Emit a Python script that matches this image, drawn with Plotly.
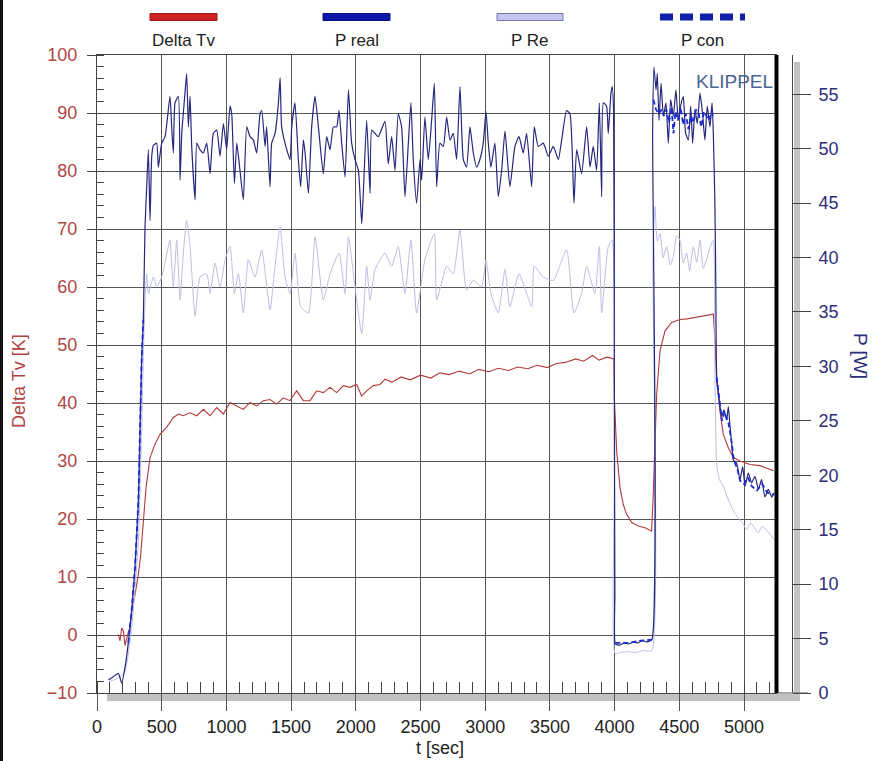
import plotly.graph_objects as go

# ---------------- data ----------------
t_real = [88, 126, 165, 191, 217, 242, 268, 294, 320, 332, 345, 358, 371, 384, 397, 410, 423, 436, 461, 474,
          500, 526, 564, 577, 590, 603, 629, 642, 655, 680, 693, 706, 719, 732, 758, 771, 796, 822, 848, 874,
          899, 925, 951, 977, 1002, 1028, 1041, 1062, 1080, 1105, 1131, 1157, 1183, 1208, 1234, 1260, 1273,
          1299, 1311, 1337, 1350, 1376, 1402, 1415, 1427, 1453, 1474, 1492, 1505, 1530, 1556, 1574, 1595,
          1608, 1634, 1659, 1685, 1711, 1749, 1775, 1801, 1827, 1852, 1870, 1891, 1917, 1943, 1968, 1994,
          2020, 2046, 2058, 2084, 2110, 2123, 2149, 2174, 2225, 2251, 2277, 2303, 2328, 2354, 2380, 2406,
          2426, 2444, 2470, 2496, 2509, 2534, 2560, 2586, 2607, 2625, 2650, 2676, 2702, 2728, 2753, 2779,
          2805, 2831, 2856, 2882, 2908, 2934, 2959, 2985, 3006, 3024, 3044, 3075, 3101, 3127, 3153, 3191,
          3230, 3261, 3294, 3320, 3359, 3379, 3410, 3449, 3488, 3526, 3565, 3591, 3629, 3655, 3686, 3707,
          3745, 3784, 3810, 3835, 3861, 3882, 3900, 3913, 3938, 3951, 3972, 3982, 3992, 3998, 4002, 4006,
          4040, 4075, 4110, 4145, 4180, 4215, 4250, 4288, 4294, 4304, 4320, 4330, 4343, 4359, 4377, 4397,
          4415, 4433, 4454, 4474, 4492, 4510, 4531, 4549, 4570, 4588, 4603, 4621, 4639, 4660, 4680, 4698,
          4716, 4737, 4753, 4763, 4775, 4782, 4789, 4809, 4827, 4845, 4866, 4879, 4892, 4905, 4918, 4943,
          4969, 4990, 5008, 5033, 5059, 5085, 5111, 5136, 5162, 5188, 5214, 5232]
p_real = [1.2, 1.5, 1.8, 0.9, 2.4, 4.6, 7.6, 11.6, 17.7, 23.9, 30.6, 34.3, 42.8, 46.5, 49.9, 43.4, 49.3, 50.3,
          50.5, 48.3, 50.5, 51.1, 54.8, 52.0, 49.6, 54.2, 54.8, 47.1, 51.4, 55.1, 56.9, 52.0, 54.8, 50.2,
          45.3, 50.5, 49.9, 49.6, 50.5, 47.7, 51.4, 51.7, 49.3, 52.3, 49.9, 53.9, 53.2, 46.8, 50.5, 48.0,
          45.3, 52.0, 51.1, 50.8, 49.6, 53.2, 53.5, 50.2, 52.0, 46.5, 50.5, 51.4, 54.2, 56.5, 52.0, 50.5,
          49.6, 49.0, 52.0, 54.2, 49.0, 46.5, 50.8, 49.6, 45.9, 52.0, 54.8, 52.0, 47.7, 51.1, 49.9, 52.0,
          52.0, 53.5, 50.5, 47.4, 55.4, 50.5, 49.0, 48.0, 43.1, 45.9, 52.6, 45.9, 51.7, 51.4, 51.1, 52.5,
          48.6, 51.1, 48.0, 53.2, 52.0, 45.6, 50.5, 54.2, 49.0, 45.0, 49.0, 47.1, 52.9, 49.0, 52.6, 56.0,
          46.5, 50.5, 50.2, 52.9, 50.8, 51.4, 49.0, 55.7, 49.0, 48.3, 52.0, 49.6, 48.3, 49.0, 50.5, 53.4,
          50.5, 48.3, 50.5, 45.6, 48.0, 51.6, 46.5, 50.2, 51.1, 49.6, 51.4, 46.5, 52.0, 50.2, 50.5, 49.3,
          50.2, 49.0, 50.8, 53.5, 53.2, 45.0, 49.9, 47.7, 52.0, 48.3, 50.2, 48.0, 54.2, 45.6, 54.2, 53.9,
          51.4, 55.1, 55.7, 53.5, 30.0, 9.0, 4.5, 4.4, 4.6, 4.5, 4.7, 4.6, 4.8, 4.7, 4.9, 51.7, 57.5, 55.4,
          56.9, 52.6, 56.0, 53.0, 54.2, 50.5, 54.5, 53.0, 55.4, 52.6, 53.9, 54.8, 51.4, 50.8, 53.9, 50.5,
          53.6, 52.3, 55.1, 53.2, 50.8, 53.9, 52.0, 54.2, 51.4, 45.0, 37.6, 29.1, 26.9, 25.4, 26.0, 25.1,
          26.3, 24.5, 22.9, 21.4, 21.1, 19.6, 20.8, 19.0, 20.2, 19.3, 19.9, 18.7, 19.6, 18.0, 18.7, 18.0, 18.4]

t_re = [88, 165, 217, 268, 320, 345, 358, 371, 384, 397, 436, 461, 500, 551, 564, 590, 616, 642, 667, 693,
        719, 758, 796, 848, 874, 912, 951, 990, 1028, 1062, 1093, 1131, 1170, 1221, 1273, 1337, 1376, 1415,
        1453, 1492, 1530, 1574, 1634, 1685, 1749, 1801, 1870, 1917, 1943, 1994, 2046, 2084, 2110, 2149,
        2225, 2277, 2328, 2380, 2426, 2470, 2534, 2607, 2625, 2702, 2753, 2805, 2856, 2908, 2972, 3006,
        3044, 3101, 3153, 3191, 3261, 3359, 3379, 3449, 3526, 3629, 3686, 3745, 3784, 3848, 3882, 3900,
        3951, 3982, 3998, 4004, 4040, 4100, 4160, 4220, 4288, 4296, 4312, 4330, 4351, 4375, 4402, 4430,
        4454, 4480, 4505, 4530, 4557, 4580, 4608, 4635, 4660, 4685, 4711, 4740, 4763, 4775, 4789, 4810,
        4840, 4870, 4900, 4930, 4960, 4990, 5020, 5050, 5080, 5110, 5140, 5170, 5200, 5232]
p_re = [1.0, 1.4, 2.0, 6.0, 14.0, 24.0, 31.0, 36.0, 38.5, 36.7, 38.2, 37.3, 38.2, 41.0, 41.6, 37.3, 41.6,
        36.1, 40.4, 43.4, 41.0, 34.6, 38.2, 38.5, 36.7, 39.5, 37.3, 39.8, 41.0, 36.7, 38.5, 34.9, 39.8,
        38.2, 40.7, 35.2, 39.2, 42.8, 38.2, 36.7, 40.4, 35.5, 34.9, 41.9, 36.1, 38.5, 40.4, 36.7, 41.9,
        37.3, 33.0, 39.2, 36.1, 38.9, 40.4, 39.2, 41.0, 36.7, 41.6, 34.9, 39.8, 42.2, 36.1, 39.2, 38.5,
        42.5, 37.0, 37.9, 37.3, 39.8, 36.7, 34.9, 38.9, 35.5, 38.5, 35.5, 39.2, 38.2, 37.9, 40.7, 34.9,
        36.7, 39.2, 36.7, 41.0, 34.9, 41.0, 41.6, 20.0, 3.6, 3.7, 3.8, 3.7, 3.9, 3.9, 40.0, 44.7, 41.5,
        42.2, 40.0, 41.0, 39.3, 40.1, 42.0, 41.6, 39.5, 40.4, 38.8, 41.0, 39.6, 41.6, 39.0, 39.8, 41.0,
        41.6, 30.0, 21.0, 19.6, 19.0, 18.0, 17.2, 16.5, 16.0, 15.6, 15.0, 15.6, 15.2, 14.7, 15.3, 15.0,
        14.6, 14.1]

t_con = [242, 268, 294, 320, 332, 345, 358, None,
         4006, 4100, 4200, 4288, None,
         4300, 4320, 4340, 4365, 4380, 4400, 4420, 4440, 4455, 4470, 4490, 4510, 4530, 4550, 4570, 4590,
         4610, 4630, 4650, 4670, 4690, 4710, 4730, 4750, 4765, None,
         4789, 4810, 4830, 4850, 4880, 4905, 4920, 4950, 4970, 5000, 5030, 5060, 5100, 5140, 5180, 5232]
p_con = [4.6, 7.6, 11.6, 17.7, 23.9, 30.6, 34.3, None,
         4.6, 4.6, 4.8, 4.9, None,
         54.5, 53.6, 53.2, 53.6, 53.0, 53.6, 52.4, 53.8, 51.4, 53.4, 52.6, 53.8, 52.2, 53.2, 51.8, 53.0,
         52.4, 53.6, 53.2, 52.0, 53.4, 53.0, 52.6, 53.4, 52.8, None,
         29.0, 27.0, 25.0, 25.8, 24.8, 23.0, 21.5, 20.5, 19.5, 19.2, 19.8, 19.0, 18.6, 19.2, 18.4, 18.2]

t_tv = [165, 178, 191, 204, 216, 229, 242, 255, 268, 294, 320, 338, 358, 379, 410, 448, 487, 538, 590, 629,
        667, 719, 770, 822, 873, 925, 976, 1028, 1079, 1131, 1182, 1234, 1286, 1337, 1388, 1440, 1491,
        1543, 1595, 1646, 1698, 1749, 1801, 1852, 1904, 1955, 2007, 2045, 2084, 2136, 2187, 2226, 2280,
        2350, 2420, 2500, 2580, 2650, 2720, 2800, 2880, 2950, 3030, 3100, 3180, 3250, 3330, 3400, 3480,
        3550, 3620, 3700, 3760, 3830, 3880, 3940, 3995, 3998, 4016, 4042, 4067, 4093, 4132, 4183, 4235,
        4286, 4299, 4312, 4325, 4351, 4389, 4441, 4505, 4560, 4608, 4660, 4711, 4763, 4778, 4789, 4814,
        4840, 4879, 4918, 4969, 5046, 5124, 5227]
delta_tv = [0.1, -1.0, 1.2, 0.7, -1.8, -0.4, 0.5, 1.3, 4.2, 7.0, 10.5, 13.9, 20.2, 25.4, 30.6, 32.9, 34.6,
            35.8, 37.5, 38.1, 37.8, 38.3, 37.8, 38.9, 37.8, 39.2, 38.1, 40.1, 39.5, 38.9, 40.1, 39.5, 40.4,
            40.6, 39.8, 40.9, 40.4, 42.1, 40.4, 40.4, 42.1, 41.8, 42.7, 41.8, 43.0, 42.7, 43.2, 41.2, 42.1,
            43.0, 43.2, 44.1, 43.6, 44.5, 44.0, 44.8, 44.3, 45.2, 44.9, 45.5, 45.0, 45.8, 45.4, 46.0, 45.6,
            46.2, 45.9, 46.5, 46.1, 46.8, 47.0, 47.6, 47.2, 48.2, 47.4, 47.9, 47.6, 40.9, 31.7, 25.4, 22.5,
            20.8, 19.4, 18.8, 18.5, 17.9, 24.3, 34.6, 41.5, 49.0, 52.4, 53.9, 54.4, 54.5, 54.7, 54.8, 55.0,
            55.3, 50.0, 43.8, 38.6, 34.6, 32.3, 30.6, 30.0, 29.4, 29.2, 28.3]

legend_names = ["Delta Tv", "P real", "P Re", "P con"]
x_ticks = [0, 500, 1000, 1500, 2000, 2500, 3000, 3500, 4000, 4500, 5000]

# ---------------- figure ----------------
W, H = 876, 761
L, R_AX, T, B = 97, 792, 55, 693      # pixel frame
PLOT_R = 777                           # right edge of data area
FONT = "Arial, 'Liberation Sans', sans-serif"


def px(x):
    return (x - L) / (R_AX - L)


def py(y):
    return (B - y) / (B - T)


fig = go.Figure()
fig.add_trace(go.Scatter(x=t_re, y=p_re, yaxis="y2", mode="lines", name=legend_names[2],
                         line=dict(color="#bdbde6", width=1, shape="spline", smoothing=0.5)))
fig.add_trace(go.Scatter(x=t_real, y=p_real, yaxis="y2", mode="lines", name=legend_names[1],
                         line=dict(color="#27277c", width=1.2, shape="spline", smoothing=0.5)))
fig.add_trace(go.Scatter(x=t_con, y=p_con, yaxis="y2", mode="lines", name=legend_names[3],
                         connectgaps=False, line=dict(color="#1a2bd0", width=1.8, dash="5px,3px")))
fig.add_trace(go.Scatter(x=t_tv, y=delta_tv, yaxis="y", mode="lines", name=legend_names[0],
                         line=dict(color="#b23a3a", width=1.1)))

grid = "#555555"
fig.update_layout(
    width=W, height=H,
    margin=dict(l=L, r=W - R_AX, t=T, b=H - B, pad=0, autoexpand=False),
    paper_bgcolor="white", plot_bgcolor="white",
    showlegend=False,
    font=dict(family=FONT, size=18, color="#222"),
    xaxis=dict(domain=[0, px(PLOT_R)], range=[0, 5255], tickvals=x_ticks, automargin=False,
               ticks="outside", ticklen=17, tickcolor=grid, tickwidth=1,
               showgrid=True, gridcolor=grid, gridwidth=1,
               showline=True, linecolor="#444", linewidth=1, mirror=True, zeroline=False,
               minor=dict(dtick=100, tick0=0, ticks="inside", ticklen=11, tickcolor="#444", showgrid=False),
               tickfont=dict(size=18, color="#222")),
    yaxis=dict(range=[-10, 100], dtick=10, tick0=0, ticks="outside", ticklen=9, tickcolor="#444",
               automargin=False,
               showgrid=True, gridcolor=grid, gridwidth=1,
               showline=True, linecolor="#444", zeroline=False,
               minor=dict(dtick=2, tick0=0, ticks="inside", ticklen=7, tickcolor="#444", showgrid=False),
               tickfont=dict(size=18, color="#b04545"), ticklabelstandoff=6),
    yaxis2=dict(overlaying="y", side="right", anchor="free", position=1.0, automargin=False,
                range=[0, 58.6], dtick=5, tick0=0, ticks="outside", ticklen=18, tickcolor="#444",
                showline=True, linecolor="#444", showgrid=False, zeroline=False,
                tickfont=dict(size=18, color="#2d2d7a"), ticklabelstandoff=4),
    yaxis3=dict(overlaying="y", side="right", anchor="free", position=1.0, automargin=False,
                range=[0, 58.6], dtick=1, tick0=0, ticks="inside", ticklen=13, tickcolor="#444",
                showticklabels=False, showline=False, showgrid=False, zeroline=False),
)

shapes = []
# gray shadow bars (bottom and right)
shapes.append(dict(type="rect", xref="paper", yref="paper", x0=px(107), x1=px(800), y0=py(701), y1=py(694),
                   fillcolor="#c2c2c2", line=dict(width=0), layer="below"))
shapes.append(dict(type="rect", xref="paper", yref="paper", x0=px(794), x1=px(800), y0=py(701), y1=py(62),
                   fillcolor="#c2c2c2", line=dict(width=0), layer="below"))
# extended bottom axis line
shapes.append(dict(type="line", xref="paper", yref="paper", x0=px(777), x1=px(808), y0=0, y1=0,
                   line=dict(color="#555", width=1)))
# thick black line at right of data area
shapes.append(dict(type="line", xref="paper", yref="paper", x0=px(776.5), x1=px(776.5), y0=0, y1=1,
                   line=dict(color="black", width=4)))
# left picture border
shapes.append(dict(type="rect", xref="paper", yref="paper", x0=px(-1), x1=px(3), y0=py(H + 1), y1=py(-1),
                   fillcolor="#111", line=dict(width=0)))

# custom legend (swatch above text)
leg_y_sw = py(17)
leg_y_tx = py(40)
sw = [(150, 217), (323, 390), (497, 563), (660, 745)]
shapes.append(dict(type="rect", xref="paper", yref="paper", x0=px(sw[0][0]), x1=px(sw[0][1]),
                   y0=py(20.5), y1=py(13.5), fillcolor="#cc2424", line=dict(color="#a01818", width=1)))
shapes.append(dict(type="rect", xref="paper", yref="paper", x0=px(sw[1][0]), x1=px(sw[1][1]),
                   y0=py(20.5), y1=py(13.5), fillcolor="#0c18aa", line=dict(color="#08108a", width=1)))
shapes.append(dict(type="rect", xref="paper", yref="paper", x0=px(sw[2][0]), x1=px(sw[2][1]),
                   y0=py(20.5), y1=py(13.5), fillcolor="#c4c4f0", line=dict(color="#7676b4", width=1)))
shapes.append(dict(type="line", xref="paper", yref="paper", x0=px(sw[3][0]), x1=px(sw[3][1]),
                   y0=leg_y_sw, y1=leg_y_sw, line=dict(color="#1020a8", width=7, dash="13px,7px")))

annotations = []
for name, (a, b) in zip(legend_names, sw):
    annotations.append(dict(text=name, xref="paper", yref="paper", x=px((a + b) / 2), y=leg_y_tx,
                            xanchor="center", yanchor="middle", showarrow=False,
                            font=dict(size=17, color="#222", family=FONT)))
annotations.append(dict(text="Delta Tv [K]", xref="paper", yref="paper", x=px(19), y=py(381),
                        textangle=-90, xanchor="center", yanchor="middle", showarrow=False,
                        font=dict(size=18, color="#b04545", family=FONT)))
annotations.append(dict(text="P [W]", xref="paper", yref="paper", x=px(861), y=py(356),
                        textangle=90, xanchor="center", yanchor="middle", showarrow=False,
                        font=dict(size=19, color="#2d2d7a", family=FONT)))
annotations.append(dict(text="KLIPPEL", xref="paper", yref="paper", x=px(775), y=py(81),
                        xanchor="right", yanchor="middle", showarrow=False,
                        font=dict(size=19, color="#4a6592", family=FONT)))
annotations.append(dict(text="t [sec]", xref="paper", yref="paper", x=px(440), y=py(748),
                        xanchor="center", yanchor="middle", showarrow=False,
                        font=dict(size=18, color="#222", family=FONT)))

fig.update_layout(shapes=shapes, annotations=annotations)
fig.write_html("out.html", config={"displayModeBar": False},
               post_script="document.body.style.margin='0px';document.body.style.overflow='hidden';")
